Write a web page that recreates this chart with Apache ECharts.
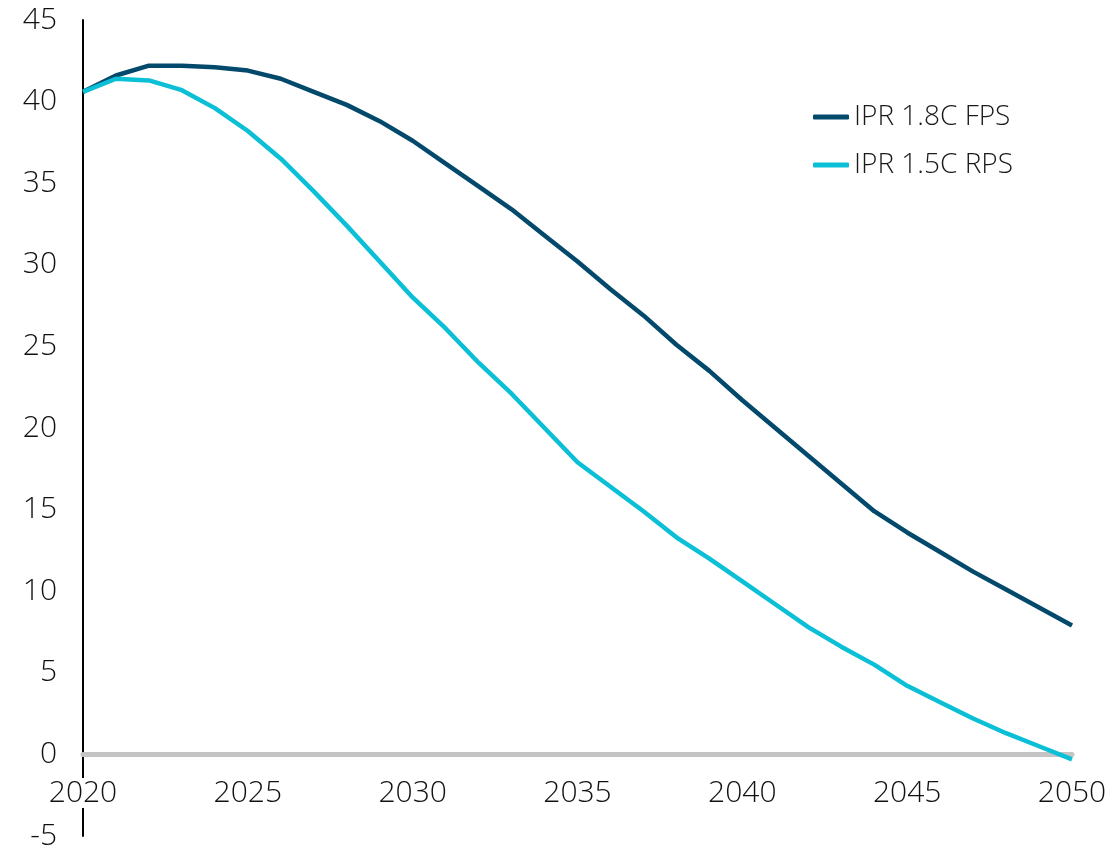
<!DOCTYPE html>
<html>
<head>
<meta charset="utf-8">
<script src="https://cdn.jsdelivr.net/npm/echarts@6/dist/echarts.min.js"></script>
<style>html,body{margin:0;padding:0;background:#fff}#c{width:1111px;height:849px}</style>
</head>
<body>
<div id="c"></div>
<script>
var years = [];
for (var y = 2020; y <= 2050; y++) years.push(String(y));
var seriesNames = ['IPR 1.8C FPS', 'IPR 1.5C RPS'];
var fps18 = [40.6, 41.6, 42.2, 42.2, 42.1, 41.9, 41.4, 40.6, 39.8, 38.8, 37.6, 36.2, 34.8, 33.4, 31.8, 30.2, 28.5, 26.9, 25.1, 23.5, 21.7, 20.0, 18.3, 16.6, 14.9, 13.6, 12.4, 11.2, 10.1, 9.0, 7.9];
var rps15 = [40.6, 41.4, 41.3, 40.7, 39.6, 38.2, 36.5, 34.5, 32.4, 30.2, 28.0, 26.1, 24.0, 22.1, 20.0, 17.9, 16.4, 14.9, 13.3, 12.0, 10.6, 9.2, 7.8, 6.6, 5.5, 4.2, 3.2, 2.2, 1.3, 0.5, -0.3];
var yTicks = [-5, 0, 5, 10, 15, 20, 25, 30, 35, 40, 45];

var chart = echarts.init(document.getElementById('c'));
var font = '"Open Sans", "Noto Sans", sans-serif';
chart.setOption({
  animation: false,
  textStyle: { fontFamily: font },
  grid: { left: 83, right: 39, top: 20, bottom: 13, containLabel: false, outerBoundsMode: 'none' },
  legend: {
    orient: 'vertical', left: 808, top: 94, itemGap: 12,
    itemWidth: 36, itemHeight: 5, icon: 'roundRect',
    textStyle: { fontSize: 28, fontWeight: 300, color: '#1a1a1a', fontFamily: font, lineHeight: 36 },
    data: seriesNames
  },
  xAxis: {
    type: 'category', data: years, boundaryGap: false,
    axisLine: { onZero: true, lineStyle: { color: '#c4c4c4', width: 5 } },
    axisTick: { show: false },
    axisLabel: {
      interval: 4, fontSize: 30, fontWeight: 300, color: '#111', margin: -58,
      backgroundColor: '#fff', padding: [0, 2],
      showMaxLabel: true
    },
    splitLine: { show: false }
  },
  yAxis: {
    type: 'value', min: -5, max: 45, interval: 5,
    axisLine: { show: true, onZero: false, lineStyle: { color: '#000', width: 2 } },
    axisTick: { show: false },
    axisLabel: { fontSize: 30, fontWeight: 300, color: '#111', margin: 26 },
    splitLine: { show: false }
  },
  series: [
    { name: seriesNames[0], type: 'line', data: fps18, symbol: 'none', z: 3,
      lineStyle: { width: 4.5, color: '#03496c' }, itemStyle: { color: '#03496c' } },
    { name: seriesNames[1], type: 'line', data: rps15, symbol: 'none', z: 3,
      lineStyle: { width: 4.5, color: '#0bbfd6' }, itemStyle: { color: '#0bbfd6' } }
  ]
});
</script>
</body>
</html>
